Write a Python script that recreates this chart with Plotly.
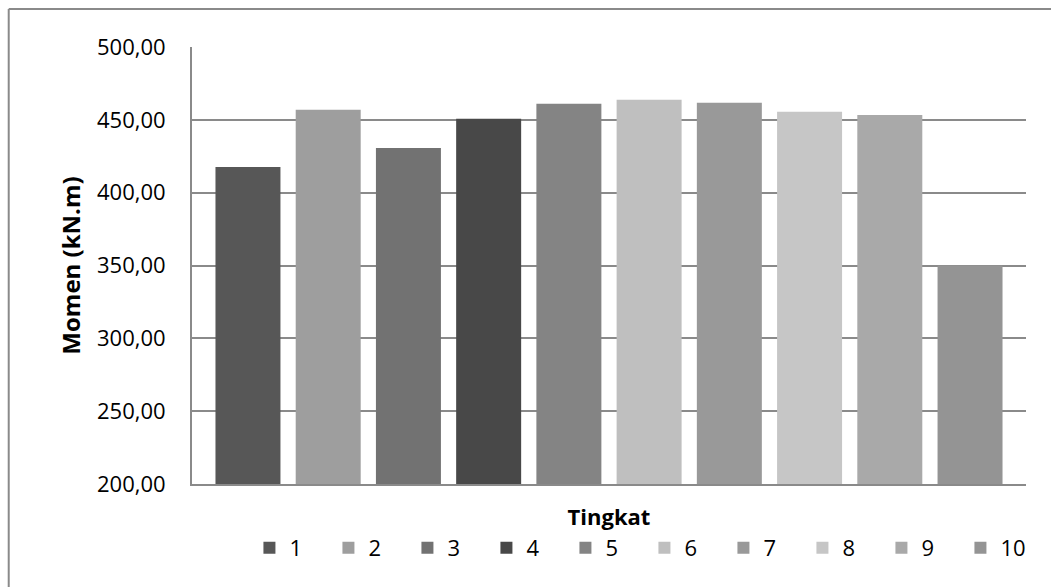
import plotly.graph_objects as go

# Moment per storey level (kN.m)
tingkat = ["1", "2", "3", "4", "5", "6", "7", "8", "9", "10"]
momen = [417.7, 456.9, 430.7, 450.7, 461.0, 463.8, 461.7, 455.5, 453.4, 350.0]
warna = ["#575757", "#9e9e9e", "#727272", "#484848", "#848484",
         "#bfbfbf", "#999999", "#c6c6c6", "#a9a9a9", "#949494"]

y_ticks = [200, 250, 300, 350, 400, 450, 500]

FONT = "Open Sans"

fig = go.Figure()
for nama, nilai, c in zip(tingkat, momen, warna):
    fig.add_trace(go.Bar(
        x=["Tingkat"], y=[nilai], name=nama,
        marker=dict(color=c, line=dict(width=0)),
    ))

W, H = 1051, 587
L, R, T, B = 191.5, 24.5, 47, 103
pw, ph = W - L - R, H - T - B

def px_x(p):
    return (p - L) / pw

def px_y(p):
    return (H - B - p) / ph

fig.update_layout(
    width=W, height=H,
    margin=dict(l=L, r=R, t=T, b=B, pad=0, autoexpand=False),
    paper_bgcolor="white", plot_bgcolor="white",
    separators=",.",
    barmode="group", bargap=0.038, bargroupgap=0.19,
    font=dict(family=FONT, color="#000000", size=22),
    showlegend=True,
    legend=dict(
        orientation="h", x=px_x(249), xanchor="left",
        y=px_y(548), yanchor="middle",
        entrywidth=34, entrywidthmode="pixels",
        font=dict(family=FONT, size=22, color="#000000"),
        itemclick=False, bgcolor="rgba(0,0,0,0)",
    ),
    xaxis=dict(
        showticklabels=False, ticks="", showgrid=False, automargin=False,
        showline=True, linecolor="#8a8a8a", linewidth=2,
        title=dict(text="<b>Tingkat</b>", standoff=25,
                   font=dict(family=FONT, size=22)),
    ),
    yaxis=dict(
        range=[200, 500], tickvals=y_ticks, tickformat=".2f",
        showgrid=True, gridcolor="#8a8a8a", gridwidth=2, automargin=False,
        showline=True, linecolor="#8a8a8a", linewidth=2,
        ticks="", ticklabelstandoff=20, zeroline=False,
        tickfont=dict(family=FONT, size=22),
        title=dict(text="<b>Momen (kN.m)</b>", standoff=10,
                   font=dict(family=FONT, size=24)),
    ),
    shapes=[
        dict(type="line", xref="paper", yref="paper",
             x0=px_x(8), x1=px_x(1060), y0=px_y(9), y1=px_y(9),
             line=dict(color="#8a8a8a", width=2)),
        dict(type="line", xref="paper", yref="paper",
             x0=px_x(8), x1=px_x(8), y0=px_y(9), y1=px_y(600),
             line=dict(color="#8a8a8a", width=2)),
    ],
)

fig.write_html("out.html")
